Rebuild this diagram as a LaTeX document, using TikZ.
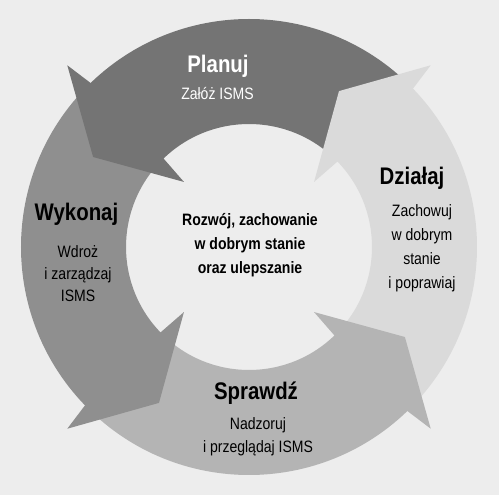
\documentclass[tikz,border=0pt]{standalone}
\usepackage{fontspec}
\setmainfont{Liberation Sans}[FakeStretch=0.85]

\tikzset{every picture/.style={line width=0.75pt}}
\tikzset{
  planfill/.style={fill={rgb, 255:red, 116; green, 116; blue, 116 }},
  dofill/.style={fill={rgb, 255:red, 143; green, 143; blue, 143 }},
  checkfill/.style={fill={rgb, 255:red, 180; green, 180; blue, 180 }},
  actfill/.style={fill={rgb, 255:red, 218; green, 218; blue, 218 }},
  headtxt/.style={inner sep=0pt, anchor=base, font=\fontsize{24}{28}\selectfont\bfseries},
  subtxt/.style={inner sep=0pt, anchor=base, align=center, font=\fontsize{16.5}{24}\selectfont},
}

\begin{document}
\begin{tikzpicture}[x=1pt,y=1pt]
\useasboundingbox (-249,-248) rectangle (250,247);

%Shape: Background
\fill [fill={rgb, 255:red, 237; green, 237; blue, 237 }] (-249,-248) rectangle (250,247);

%Shape: Arc band Planuj
\fill [planfill] (45:228) arc [start angle=45, end angle=135, radius=228] -- (135:123) arc [start angle=135, end angle=45, radius=123] -- cycle ;
%Shape: Arc band Wykonaj
\fill [dofill] (135:228) arc [start angle=135, end angle=225, radius=228] -- (225:123) arc [start angle=225, end angle=135, radius=123] -- cycle ;
%Shape: Arc band Sprawdz
\fill [checkfill] (225:228) arc [start angle=225, end angle=315, radius=228] -- (315:123) arc [start angle=315, end angle=225, radius=123] -- cycle ;
%Shape: Arc band Dzialaj
\fill [actfill] (315:228) arc [start angle=315, end angle=405, radius=228] -- (45:123) arc [start angle=45, end angle=-45, radius=123] -- cycle ;

%Shape: Arrow head Planuj
\fill [planfill] (134:123) -- (135:92) -- (150:180) -- (135:257) -- (134:228) -- cycle ;
%Shape: Arrow head Wykonaj
\fill [dofill] (224:123) -- (225:92) -- (240:180) -- (225:257) -- (224:228) -- cycle ;
%Shape: Arrow head Sprawdz
\fill [checkfill] (314:123) -- (315:92) -- (330:180) -- (315:257) -- (314:228) -- cycle ;
%Shape: Arrow head Dzialaj
\fill [actfill] (44:123) -- (45:92) -- (60:180) -- (45:257) -- (44:228) -- cycle ;

% Text Node
\draw (-31,174) node (plantitle) [headtxt] [text=white] {Planuj};
% Text Node
\draw (-31.5,147) node (plansub) [subtxt] [text=white] {Załóż ISMS};
% Text Node
\draw (-172.5,26) node (dotitle) [headtxt] {Wykonaj};
% Text Node
\draw (-171,-55) node (dosub) [subtxt] [font=\fontsize{16.5}{22}\selectfont] {Wdroż\\ i zarządzaj\\ ISMS};
% Text Node
\draw (7,-153) node (checktitle) [headtxt] {Sprawdź};
% Text Node
\draw (9,-206) node (checksub) [subtxt] [font=\fontsize{16.5}{23}\selectfont] {Nadzoruj\\ i przeglądaj ISMS};
% Text Node
\draw (163,62) node (acttitle) [headtxt] {Działaj};
% Text Node
\draw (173,-42) node (actsub) [subtxt] {Zachowuj\\ w dobrym\\ stanie\\ i poprawiaj};
% Text Node
\draw (1,-27) node (cycletxt) [subtxt] [font=\fontsize{16.5}{24}\selectfont\bfseries] {Rozwój, zachowanie\\ w dobrym stanie\\ oraz ulepszanie};

\end{tikzpicture}
\end{document}
